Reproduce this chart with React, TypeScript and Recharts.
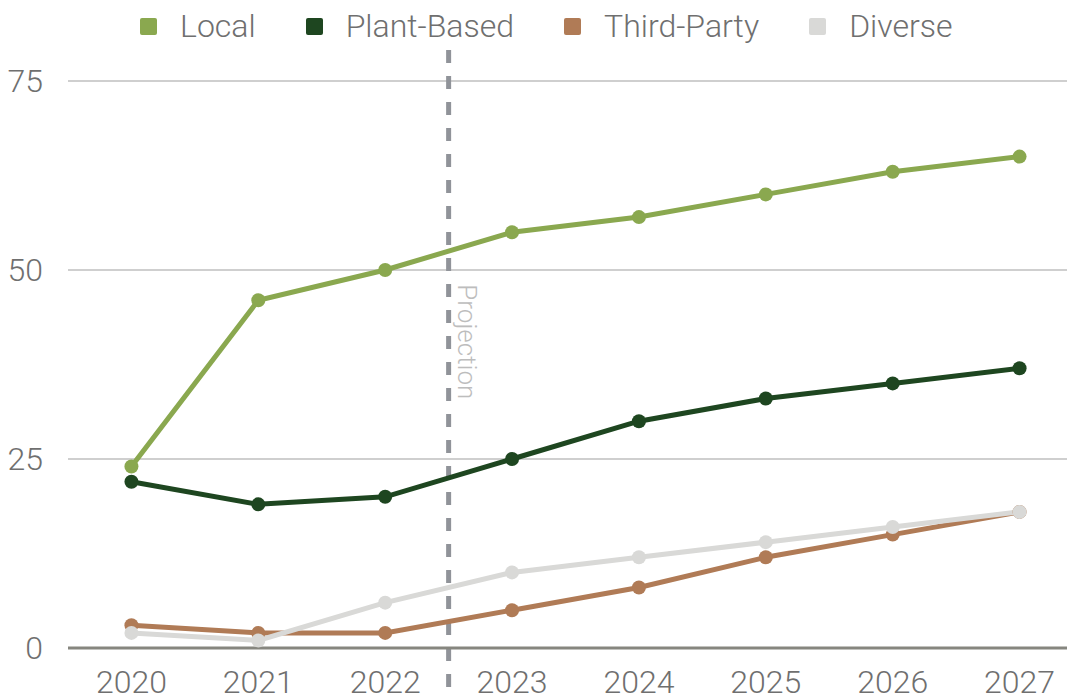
import React from 'react';
import { LineChart, Line, XAxis, YAxis, CartesianGrid, Legend, ReferenceLine, ReferenceDot } from 'recharts';

const years = [2020, 2021, 2022, 2023, 2024, 2025, 2026, 2027];
const local = [24, 46, 50, 55, 57, 60, 63, 65];
const plantBased = [22, 19, 20, 25, 30, 33, 35, 37];
const thirdParty = [3, 2, 2, 5, 8, 12, 15, 18];
const diverse = [2, 1, 6, 10, 12, 14, 16, 18];
const yTicks = [0, 25, 50, 75];
const projectionYear = 2022.5;
const projectionLabel = 'Projection';

const series = [
  { key: 'local', name: 'Local', color: '#8aa84f', values: local },
  { key: 'plantBased', name: 'Plant-Based', color: '#1e4620', values: plantBased },
  { key: 'thirdParty', name: 'Third-Party', color: '#b07b56', values: thirdParty },
  { key: 'diverse', name: 'Diverse', color: '#d9d9d7', values: diverse },
];

const data = years.map((year, i) => {
  const row: Record<string, number> = { year };
  series.forEach((s) => {
    row[s.key] = s.values[i];
  });
  return row;
});

const FONT = '"Roboto Light", "Roboto Thin", Roboto, "Noto Sans", sans-serif';
const TEXT = '#6f6f6f';
const WEIGHT = 200;

const renderLegend = () => (
  <div
    style={{
      display: 'flex',
      paddingLeft: 132,
      height: 73,
      alignItems: 'flex-start',
      fontFamily: FONT,
      fontWeight: WEIGHT,
      fontSize: 32,
      color: TEXT,
      boxSizing: 'border-box',
    }}
  >
    {series.map((s) => (
      <div key={s.key} style={{ display: 'flex', alignItems: 'center', height: 36, marginRight: 50 }}>
        <span style={{ display: 'inline-block', width: 17, height: 17, background: s.color, borderRadius: 2, marginRight: 23 }} />
        <span style={{ lineHeight: '36px' }}>{s.name}</span>
      </div>
    ))}
  </div>
);

const ProjectionText = (props: any) => {
  const { cx, cy } = props;
  return (
    <text
      x={cx}
      y={cy}
      transform={`rotate(90 ${cx} ${cy})`}
      textAnchor="middle"
      fontFamily={FONT}
      fontWeight={WEIGHT}
      fontSize={26}
      fill="#bdbdbd"
    >
      {projectionLabel}
    </text>
  );
};

export default function App() {
  return (
    <div style={{ width: 1067, height: 692, overflow: 'hidden', position: 'relative' }}>
      <LineChart
        width={1075}
        height={692}
        data={data}
        margin={{ top: 0, right: 0, bottom: 0, left: 0 }}
        style={{ fontFamily: FONT, fontWeight: WEIGHT }}
      >
        <Legend verticalAlign="top" content={renderLegend} wrapperStyle={{ left: 0, top: 0, width: 1075 }} />
        <CartesianGrid vertical={false} stroke="#cfcfcf" strokeWidth={2} />
        <XAxis
          dataKey="year"
          type="number"
          domain={[2019.5, 2027.5]}
          ticks={years}
          tickSize={0}
          tickMargin={22}
          tickLine={false}
          axisLine={{ stroke: '#86867f', strokeWidth: 3 }}
          height={52}
          tick={{ fontSize: 32, fill: TEXT, fontFamily: FONT, fontWeight: WEIGHT }}
        />
        <YAxis
          domain={[0, 75]}
          ticks={yTicks}
          width={60}
          tickSize={0}
          tickMargin={25}
          tickLine={false}
          axisLine={false}
          tick={{ fontSize: 32, fill: TEXT, fontFamily: FONT, fontWeight: WEIGHT }}
        />
        <ReferenceLine
          segment={[
            { x: projectionYear, y: 79.1 },
            { x: projectionYear, y: -6.9 },
          ]}
          ifOverflow="visible"
          stroke="#909399"
          strokeWidth={5}
          strokeDasharray="13 13"
        />
        {series.map((s) => (
          <Line
            key={s.key}
            dataKey={s.key}
            name={s.name}
            stroke={s.color}
            strokeWidth={5}
            dot={{ r: 7, fill: s.color, stroke: 'none' }}
            activeDot={false}
            isAnimationActive={false}
          />
        ))}
        <ReferenceDot x={2022.57} y={40.5} r={0} ifOverflow="visible" shape={ProjectionText} />
      </LineChart>
    </div>
  );
}
